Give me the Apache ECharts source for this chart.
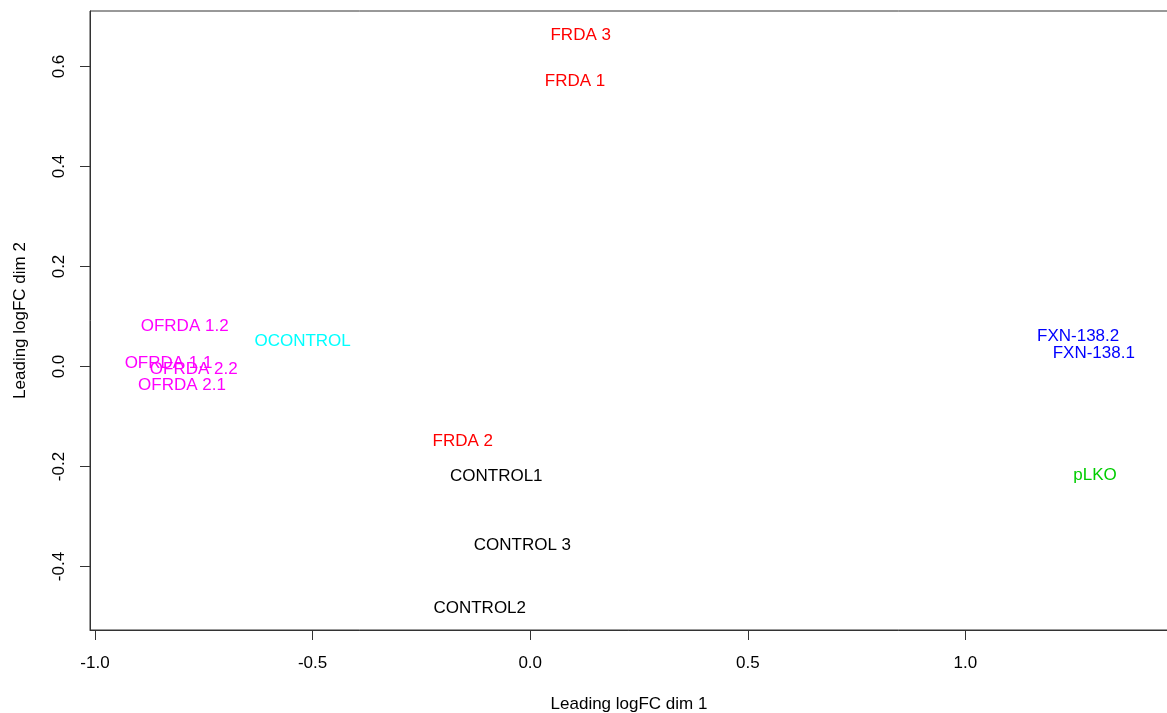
<!DOCTYPE html>
<html>
<head>
<meta charset="utf-8">
<script src="https://cdn.jsdelivr.net/npm/echarts@6/dist/echarts.min.js"></script>
<style>
html,body{margin:0;padding:0;background:#fff;}
#chart{width:1167px;height:713px;}
</style>
</head>
<body>
<div id="chart"></div>
<script>
// Sample labels and MDS coordinates
var sampleNames = ['FRDA 3','FRDA 1','FRDA 2','CONTROL1','CONTROL 3','CONTROL2',
  'OFRDA 1.2','OCONTROL','OFRDA 1.1','OFRDA 2.2','OFRDA 2.1',
  'FXN-138.2','FXN-138.1','pLKO'];
var dim1 = [0.116, 0.103, -0.155, -0.078, -0.018, -0.116,
  -0.794, -0.523, -0.831, -0.773, -0.800,
  1.259, 1.295, 1.298];
var dim2 = [0.663, 0.570, -0.150, -0.220, -0.357, -0.484,
  0.081, 0.050, 0.006, -0.005, -0.037,
  0.061, 0.026, -0.217];
var groups = ['FRDA','FRDA','FRDA','CONTROL','CONTROL','CONTROL',
  'OFRDA','OCONTROL','OFRDA','OFRDA','OFRDA',
  'FXN','FXN','pLKO'];
var xTicks = [-1.0, -0.5, 0.0, 0.5, 1.0];
var yTicks = [-0.4, -0.2, 0.0, 0.2, 0.4, 0.6];

var groupColors = {
  'FRDA': '#FF0000', 'CONTROL': '#000000', 'OFRDA': '#FF00FF',
  'OCONTROL': '#00FFFF', 'FXN': '#0000FF', 'pLKO': '#00CD00'
};
var FONT = '"Liberation Sans", Arial, Helvetica, sans-serif';

var groupOrder = ['FRDA','CONTROL','OFRDA','OCONTROL','FXN','pLKO'];
var series = groupOrder.map(function (g) {
  var data = [];
  for (var i = 0; i < sampleNames.length; i++) {
    if (groups[i] === g) data.push({ name: sampleNames[i], value: [dim1[i], dim2[i]] });
  }
  return {
    type: 'scatter',
    name: g,
    data: data,
    symbolSize: 1,
    itemStyle: { color: 'rgba(0,0,0,0)', opacity: 1 },
    silent: true,
    label: {
      show: true,
      position: 'inside',
      align: 'center',
      verticalAlign: 'middle',
      formatter: '{b}',
      color: groupColors[g],
      opacity: 1,
      fontFamily: FONT,
      fontSize: 17
    }
  };
});

var chart = echarts.init(document.getElementById('chart'), null, { renderer: 'canvas' });
chart.setOption({
  animation: false,
  backgroundColor: '#ffffff',
  grid: {
    left: 90, right: -1, top: 11, bottom: 83,
    containLabel: false,
    outerBoundsMode: 'none',
    show: true, borderColor: '#333', borderWidth: 1, backgroundColor: 'transparent'
  },
  xAxis: {
    type: 'value',
    min: -1.0115, max: 1.4655,
    name: 'Leading logFC dim 1',
    nameLocation: 'middle',
    nameGap: 66,
    nameTextStyle: { fontFamily: FONT, fontSize: 17, color: '#000' },
    axisLine: { show: true, onZero: false, lineStyle: { color: '#333', width: 1 } },
    axisTick: { show: true, length: 10, inside: false, customValues: xTicks,
      lineStyle: { color: '#333', width: 1 } },
    axisLabel: { show: true, customValues: xTicks, margin: 25,
      fontFamily: FONT, fontSize: 17, color: '#000',
      formatter: function (v) { return v.toFixed(1); } },
    splitLine: { show: false }
  },
  yAxis: {
    type: 'value',
    min: -0.527, max: 0.711,
    name: 'Leading logFC dim 2',
    nameLocation: 'middle',
    nameGap: 61,
    nameTextStyle: { fontFamily: FONT, fontSize: 17, color: '#000' },
    axisLine: { show: true, onZero: false, lineStyle: { color: '#333', width: 1 } },
    axisTick: { show: true, length: 10, inside: false, customValues: yTicks,
      lineStyle: { color: '#333', width: 1 } },
    axisLabel: { show: true, customValues: yTicks, margin: 22, rotate: 90,
      fontFamily: FONT, fontSize: 17, color: '#000',
      formatter: function (v) { return v.toFixed(1); } },
    splitLine: { show: false }
  },
  series: series
});
</script>
</body>
</html>
